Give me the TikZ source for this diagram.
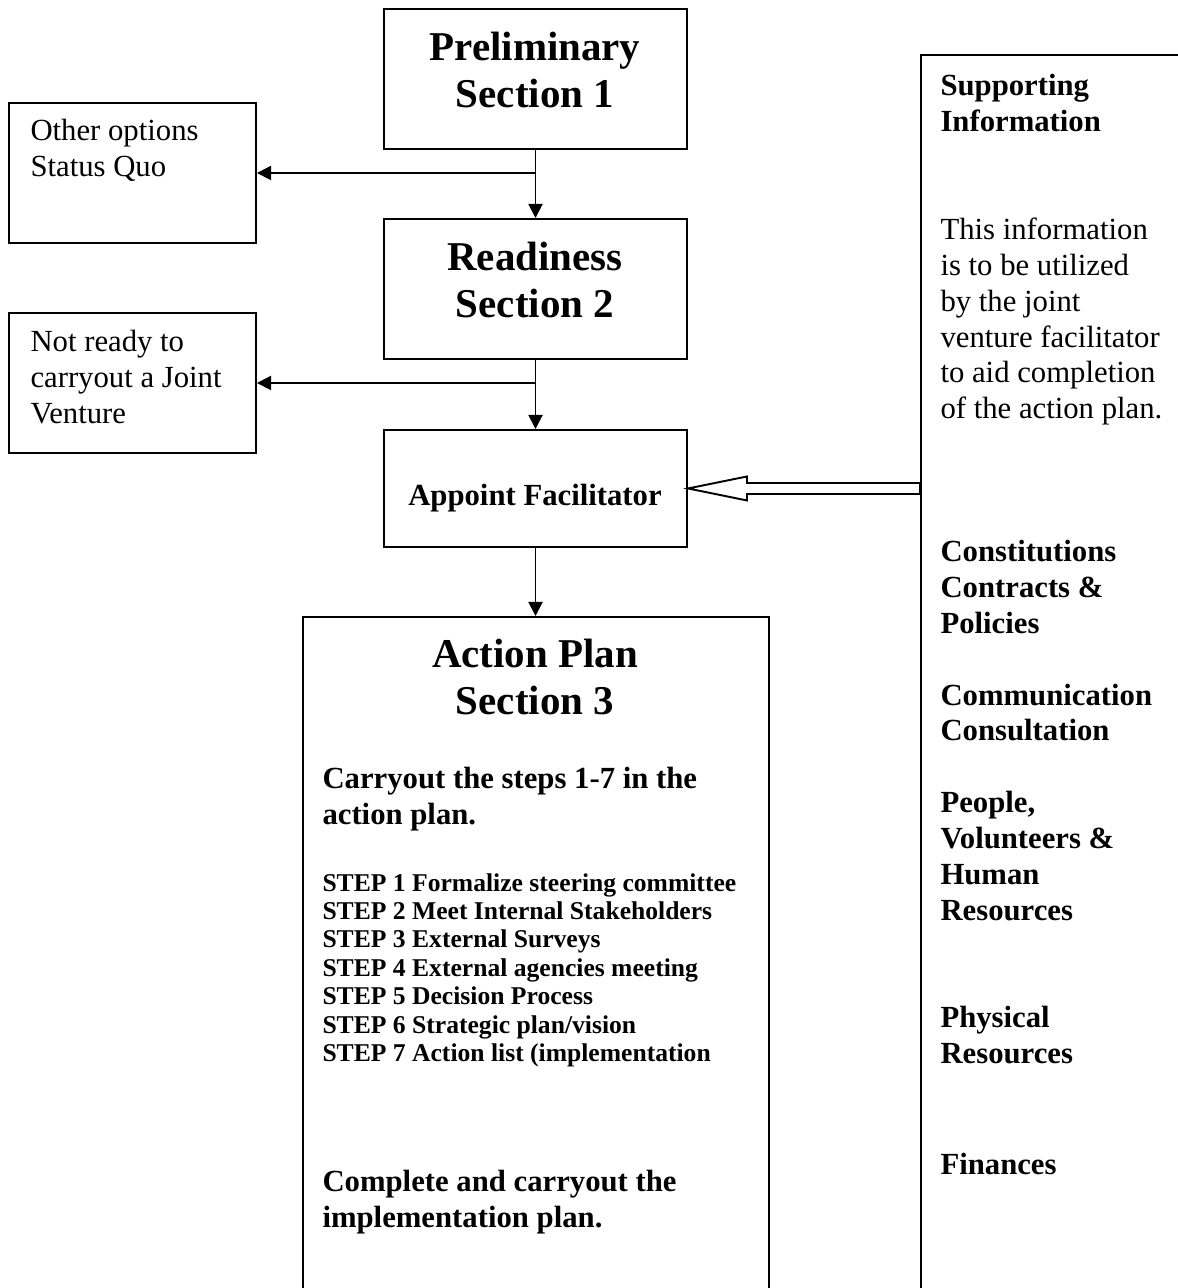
\documentclass[tikz,border=0pt]{standalone}
\usepackage{fontspec}
\setmainfont{Liberation Serif}
\usetikzlibrary{arrows.meta,calc}
\begin{document}
\begin{tikzpicture}[x=0.390625pt,y=-0.390625pt,
  box/.style={draw,line width=.75pt,inner sep=0pt,anchor=north west},
  cbox/.style={box,minimum width=118.4pt,minimum height=54.7pt},
  sbox/.style={box,minimum width=96.5pt,minimum height=54.7pt},
  arr/.style={line width=.75pt,-{Triangle[length=5.5pt,width=5.5pt]}},
  hollow/.style={draw,line width=.75pt,fill=white,line join=miter},
  body/.style={anchor=north west,inner sep=0pt,align=left,yshift=8.2pt,font=\fontsize{12}{14}\selectfont,execute at begin node=\strut},
  bodyb/.style={body,font=\fontsize{12}{14}\selectfont\bfseries},
  steps/.style={body,yshift=-1.9pt,font=\fontsize{10}{11.1}\selectfont\bfseries},
  title/.style={anchor=north,inner sep=0pt,align=center,yshift=10.2pt,font=\fontsize{16}{18.4}\selectfont\bfseries,execute at begin node=\strut},
  label/.style={anchor=base,inner sep=0pt,font=\fontsize{12}{14}\selectfont\bfseries}]
\useasboundingbox (0,0) rectangle (1178,1288);
\clip (0,0) rectangle (1178,1288);
% boxes
\node[cbox] (prelim) at (383,8) {};
\node[cbox] (ready) at (383,218) {};
\node[cbox,minimum height=45.7pt] (appoint) at (383,429) {};
\node[box,minimum width=182pt,minimum height=273pt] (action) at (302,616) {};
\node[sbox] (other) at (8,102) {};
\node[sbox] (notready) at (8,312) {};
\node[box,minimum width=117pt,minimum height=508pt] (support) at (920,54) {};
% texts
\node[title] (tprelim) at (535,58) {Preliminary\\Section 1};
\node[title] (tready) at (535,268) {Readiness\\Section 2};
\node[label] (tappoint) at (535,505) {Appoint Facilitator};
\node[title] (taction) at (535,665) {Action Plan\\Section 3};
\node[bodyb] (tcarry) at (322,788) {Carryout the steps 1-7 in the\\action plan.};
\node[steps] (tsteps) at (322,889) {STEP 1 Formalize steering committee\\STEP 2 Meet Internal Stakeholders\\STEP 3 External Surveys\\STEP 4 External agencies meeting\\STEP 5 Decision Process\\STEP 6 Strategic plan/vision\\STEP 7 Action list (implementation};
\node[bodyb] (tcomplete) at (322,1191) {Complete and carryout the\\implementation plan.};
\node[body] (tother) at (30,140) {Other options\\Status Quo};
\node[body] (tnotready) at (30,351) {Not ready to\\carryout a Joint\\Venture};
\node[bodyb] (tsupport) at (940,95) {Supporting\\Information};
\node[body] (tinfo) at (940,238.4) {This information\\is to be utilized\\by the joint\\venture facilitator\\to aid completion\\of the action plan.};
\node[bodyb] (tconst) at (940,561) {Constitutions\\Contracts \&\\Policies};
\node[bodyb] (tcomm) at (940,704.3) {Communication\\Consultation};
\node[bodyb] (tpeople) at (940,812) {People,\\Volunteers \&\\Human\\Resources};
\node[bodyb] (tphys) at (940,1027) {Physical\\Resources};
\node[bodyb] (tfin) at (940,1170) {Finances};
% connectors
\draw[arr] (prelim.south) -- (ready.north);
\draw[arr] (prelim.south |- other.east) -- (other.east);
\draw[arr] (ready.south) -- (appoint.north);
\draw[arr] (ready.south |- notready.east) -- (notready.east);
\draw[arr] (appoint.south) -- (appoint.south |- action.north);
\coordinate (tail) at (support.west |- appoint.east);
\draw[hollow] (appoint.east) -- ++(59,-12) -- ++(0,6.5) -- ($(tail)+(0,-5.5)$) -- ($(tail)+(0,5.5)$) -- ($(appoint.east)+(59,5.5)$) -- ++(0,6.5) -- cycle;
\end{tikzpicture}
\end{document}
